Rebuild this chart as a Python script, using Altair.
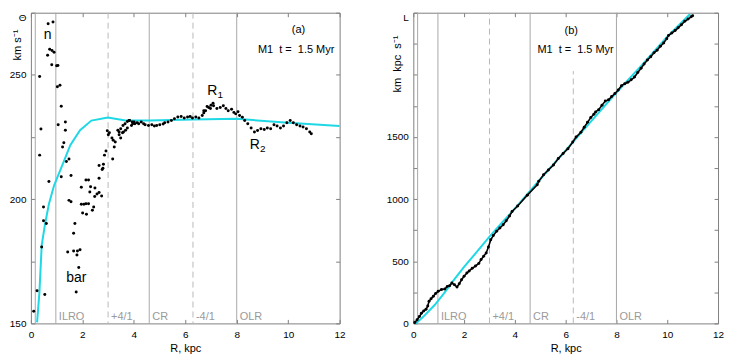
import altair as alt
import pandas as pd

FONT = "Liberation Sans"
CYAN = "#1fd8e6"
GRAY_LINE = "#a8a8a8"
FRAME = "#808080"
LABEL_GRAY = "#9a9a9a"

# ---------------- panel (a): rotation curve Theta(R) ----------------
a_r = [0.11, 0.24, 0.34, 0.34, 0.39, 0.42, 0.49, 0.49, 0.54, 0.60, 0.65, 0.67, 0.70, 0.73,
       0.81, 0.82, 0.86, 0.90, 1.00, 1.03, 1.05, 1.06, 1.13, 1.18, 1.18, 1.23, 1.28, 1.34,
       1.34, 1.38, 1.43, 1.48, 1.48, 1.56, 1.56, 1.66, 1.66, 1.71, 1.76, 1.79, 1.81, 1.86,
       1.91, 1.96, 1.96, 2.01, 2.06, 2.14, 2.14, 2.16, 2.24, 2.24, 2.29, 2.32, 2.39, 2.44,
       2.48, 2.49, 2.57, 2.65, 2.65, 2.65, 2.75, 2.77, 2.80, 2.82, 2.86, 2.92,
       2.97, 3.01, 3.05, 3.15, 3.18, 3.20, 3.24, 3.28, 3.38, 3.43, 3.49, 3.56, 3.60, 3.68,
       3.75, 3.81, 3.91, 3.96, 4.01,
       3.43, 3.49, 3.58, 3.66, 3.75, 3.84, 3.94, 4.04, 4.13, 4.19, 4.29, 4.38, 4.44, 4.57,
       4.70, 4.80, 4.89, 5.01, 5.14, 5.20, 5.33, 5.46, 5.58, 5.71, 5.84, 5.96, 6.09, 6.19,
       6.28, 6.41, 6.53, 6.66, 6.72, 6.79, 6.91, 7.00, 7.08,
       6.72, 6.85, 6.98, 7.10, 7.23, 7.36, 7.48, 7.58, 7.67, 7.80, 7.89, 7.96, 8.05, 8.11,
       8.22, 8.31, 8.43, 8.56, 8.69, 8.81, 8.94, 9.07, 9.19, 9.32, 9.45, 9.57, 9.70, 9.82,
       9.95, 10.08, 10.20, 10.33, 10.46, 10.58, 10.71, 10.84, 10.90]
a_theta = [154.9, 163.1, 217.7, 249.3, 228.2, 180.7, 196.8, 191.3, 161.6, 190.2, 257.9, 270.6, 207.1, 260.3,
           254.1, 259.8, 271.3, 259.1, 253.7, 245.2, 253.8, 229.9, 245.8, 237.4, 209.0, 221.0, 222.7, 231.0,
           227.7, 215.1, 178.7, 216.1, 199.5, 198.9, 209.5, 186.3, 179.1, 190.2, 162.6, 177.5, 179.1, 172.5,
           179.6, 204.8, 197.9, 194.4, 197.9, 207.7, 198.1, 193.9, 207.7, 198.1, 202.9, 205.0, 195.5, 196.8,
           201.1, 204.5, 202.1, 213.5, 208.4, 202.7, 201.3, 211.9, 212.4, 214.0, 217.7, 219.4,
           227.5, 225.9, 226.7, 224.6, 216.1, 223.7, 221.0, 223.0, 227.7, 225.9, 224.6, 226.7, 227.0, 227.7,
           228.6, 231.6, 229.6, 230.3, 231.0,
           227.0, 228.3, 229.6, 230.3, 231.2, 231.6, 231.0, 230.3, 230.7, 230.3, 231.0, 230.3, 229.9, 229.6,
           229.9, 229.4, 229.6, 229.9, 230.2, 230.7, 231.0, 231.6, 232.3, 233.0, 233.2, 232.6, 233.0, 233.2,
           232.6, 233.0, 232.6, 233.6, 234.7, 235.6, 236.9, 237.8, 238.6,
           235.6, 237.3, 236.5, 237.6, 236.5, 236.9, 237.6, 236.5, 235.6, 236.2, 234.9, 234.3, 235.2, 233.6,
           232.9, 231.6, 230.3, 228.6, 227.0, 227.6, 228.3, 228.0, 228.6, 228.3, 229.9, 229.4, 228.6, 229.4,
           230.7, 231.6, 230.7, 229.9, 229.4, 229.0, 228.3, 227.0, 226.3]

a_model_r = [0.24, 0.33, 0.42, 0.55, 0.70, 0.90, 1.13, 1.28, 1.53, 1.91, 2.35, 2.99, 3.68, 4.60, 6.30, 8.00, 10.0, 12.0]
a_model_theta = [150.4, 162.3, 181.5, 190.0, 198.0, 205.5, 211.4, 215.2, 221.7, 227.7, 231.6, 232.8, 231.6, 231.6, 232.0, 232.3, 230.7, 229.4]

# ---------------- panel (b): angular momentum L(R) ----------------
b_r = [0.06, 0.15, 0.24, 0.32, 0.41, 0.50, 0.57, 0.62, 0.70, 0.79, 0.88, 0.98, 1.11, 1.24, 1.34, 1.43,
       1.52, 1.62, 1.72, 1.81, 1.90, 2.00, 2.11, 2.20, 2.32, 2.45, 2.58, 2.67, 2.77, 2.87, 2.96, 3.05,
       3.15, 3.28, 3.41, 3.54, 3.66, 3.79, 3.89, 4.11, 4.49, 4.88, 4.94, 5.13, 5.32, 5.52, 5.71, 5.90,
       6.09, 6.28, 6.41, 6.60, 6.73, 6.86, 6.99, 7.11, 7.18, 7.30, 7.43, 7.56, 7.69, 7.81, 7.94, 8.07,
       8.20, 8.33, 8.45, 8.58, 8.71, 8.84, 8.97, 9.09, 9.22, 9.35, 9.48, 9.60, 9.73, 9.86, 9.98, 10.05,
       10.18, 10.31, 10.43, 10.56, 10.69, 10.82, 10.94, 11.00]
b_L = [8, 29, 55, 82, 100, 113, 140, 179, 198, 219, 240, 258, 272, 277, 298, 303,
       325, 311, 293, 319, 351, 380, 405, 422, 443, 462, 483, 515, 541, 567, 615, 673,
       707, 741, 768, 794, 826, 865, 900, 945, 1032, 1116, 1143, 1196, 1235, 1275, 1327, 1367,
       1406, 1459, 1499, 1538, 1578, 1618, 1657, 1683, 1702, 1720, 1755, 1789, 1800, 1825, 1850, 1878,
       1913, 1929, 1940, 1960, 1982, 2019, 2053, 2087, 2119, 2146, 2177, 2198, 2230, 2256, 2291, 2317,
       2336, 2356, 2378, 2404, 2431, 2449, 2467, 2475]

b_model_r = [0.10, 0.40, 0.85, 1.20, 1.60, 2.00, 2.50, 3.00, 3.50, 3.92, 5.00, 6.00, 7.00, 8.00, 9.00, 10.0, 10.9]
b_model_L = [0, 55, 150, 240, 350, 455, 575, 698, 812, 905, 1160, 1392, 1625, 1858, 2078, 2307, 2490]

# ---------------- resonances ----------------
solid_r = [0.17, 0.97, 4.6, 8.0]
dashed_r = [3.0, 6.3]
b_dashed_top = [2500, 2030]
res_label_r = [0.97, 3.0, 4.6, 6.3, 8.0]
res_names = ["ILRO", "+4/1", "CR", "-4/1", "OLR"]

x_ticks = [0, 2, 4, 6, 8, 10, 12]
a_y_ticks = [150, 175, 200, 225, 250, 275]
b_y_ticks = [0, 250, 500, 750, 1000, 1250, 1500, 1750, 2000, 2250, 2500]

W1, W2, H = 310, 306, 312
NB = "\u00a0"


def axes(ydom, yticks, label_expr, top_value, ytitle, title_x, title_y):
    xs = alt.Scale(domain=[0, 12], nice=False, zero=False)
    ys = alt.Scale(domain=ydom, nice=False, zero=False)
    common = dict(domain=False, grid=False, tickSize=4, offset=-4, tickColor=FRAME, tickWidth=1,
                  labelFont=FONT, labelFontSize=10, labelColor="black", labelOverlap=False,
                  titleFont=FONT, titleFontSize=11, titleFontWeight="normal", titleColor="black")
    xa = alt.Axis(orient="bottom", values=x_ticks, title="R, kpc", labelPadding=6, titlePadding=3,
                  format="d", labelFlush=False, **common)
    ya = alt.Axis(orient="left", values=yticks, labelExpr=label_expr, format="d",
                  labelOffset={"condition": {"test": f"datum.value == {top_value}", "value": 5}, "value": 0},
                  labelPadding=5, title=ytitle, titleAngle=270, titleX=title_x, titleY=title_y,
                  titleAlign="center", titleBaseline="middle", **common)
    xm = alt.Axis(orient="top", values=x_ticks, labels=False, title=None, **common)
    ym = alt.Axis(orient="right", values=yticks, labels=False, title=None, **common)
    return xs, ys, xa, ya, xm, ym


def txt(X, Y, r, v, label, size, dx=0, dy=0, align="center", baseline="middle", color="black"):
    df = pd.DataFrame({"r": [r], "v": [v], "t": [label]})
    return alt.Chart(df).mark_text(font=FONT, fontSize=size, align=align, baseline=baseline,
                                   dx=dx, dy=dy, color=color).encode(x=X, y=Y, text="t:N")


def panel(pts_r, pts_v, mdl_r, mdl_v, ydom, yticks, label_expr, top_value, ytitle,
          title_x, title_y, width, tag, tag_pos, info_pos, extra, connect, dashed_tops):
    xs, ys, xa, ya, xm, ym = axes(ydom, yticks, label_expr, top_value, ytitle, title_x, title_y)
    X = alt.X("r:Q", scale=xs, axis=xa)
    Y = alt.Y("v:Q", scale=ys, axis=ya)

    layers = []
    layers.append(alt.Chart(pd.DataFrame({"r": solid_r})).mark_rule(
        color=GRAY_LINE, strokeWidth=1).encode(x=X))
    if dashed_tops is None:
        layers.append(alt.Chart(pd.DataFrame({"r": dashed_r})).mark_rule(
            color="#b8b8b8", strokeWidth=1, strokeDash=[6, 4]).encode(x=X))
    else:
        ddf = pd.DataFrame({"r": dashed_r, "v": [ydom[0]] * len(dashed_r), "v2": dashed_tops})
        layers.append(alt.Chart(ddf).mark_rule(
            color="#b8b8b8", strokeWidth=1, strokeDash=[6, 4]).encode(x=X, y=Y, y2="v2:Q"))
    ldf = pd.DataFrame({"r": res_label_r, "v": [ydom[0]] * len(res_label_r), "t": res_names})
    layers.append(alt.Chart(ldf).mark_text(font=FONT, fontSize=11, align="left", baseline="bottom",
                                           dx=3, dy=-1, color=LABEL_GRAY).encode(x=X, y=Y, text="t:N"))
    layers.append(alt.Chart(pd.DataFrame({"r": mdl_r, "v": mdl_v})).mark_line(
        color=CYAN, strokeWidth=2).encode(x=X, y=Y, order="r:Q"))
    pdf = pd.DataFrame({"r": pts_r, "v": pts_v})
    if connect:
        layers.append(alt.Chart(pdf).mark_line(color="black", strokeWidth=1.6).encode(
            x=X, y=Y, order="r:Q"))
    layers.append(alt.Chart(pdf).mark_circle(color="black", size=9, opacity=1).encode(x=X, y=Y))
    layers.append(txt(X, Y, tag_pos[0], tag_pos[1], tag, 11))
    layers.append(txt(X, Y, info_pos[0], info_pos[1],
                      "M1" + NB + NB + "t =" + NB + NB + "1.5 Myr", 11))
    for e in extra:
        layers.append(txt(X, Y, *e[:4], **(e[4] if len(e) > 4 else {})))

    mirror = alt.Chart(pd.DataFrame({"r": [0], "v": [ydom[0]]})).mark_point(opacity=0).encode(
        x=alt.X("r:Q", scale=xs, axis=xm), y=alt.Y("v:Q", scale=ys, axis=ym))
    return alt.layer(alt.layer(*layers), mirror).resolve_scale(
        x="independent", y="independent").properties(width=width, height=H)


extra_a = [
    (0.65, 265.9, "n", 14),
    (1.77, 168.3, "bar", 14),
    (7.05, 243.5, "R", 14),
    (7.05, 243.5, "1", 10, {"dx": 8, "dy": 4}),
    (8.70, 221.6, "R", 14),
    (8.70, 221.6, "2", 10, {"dx": 8, "dy": 4}),
]

pa = panel(a_r, a_theta, a_model_r, a_model_theta, [150, 275], a_y_ticks,
           "datum.value == 275 ? '\u0398' : (datum.value % 50 == 0 ? datum.label : '')", 275,
           "km" + NB + "s\u207b\u00b9", -17, 32, W1, "(a)", (10.4, 267.9), (10.31, 259.9),
           extra_a, False, None)

pb = panel(b_r, b_L, b_model_r, b_model_L, [0, 2500], b_y_ticks,
           "datum.value == 2500 ? 'L' : ((datum.value % 500 == 0 && datum.value < 2000) ? datum.label : '')", 2500,
           "km" + NB + NB + "kpc" + NB + NB + "s\u207b\u00b9", -20, 51, W2, "(b)", (6.22, 2354), (6.39, 2198),
           [], True, b_dashed_top)

chart = alt.hconcat(pa, pb, spacing=39).properties(padding=0).configure_view(
    stroke=FRAME, strokeWidth=1)

chart.save("out.html", embed_options={"renderer": "svg", "actions": False})
